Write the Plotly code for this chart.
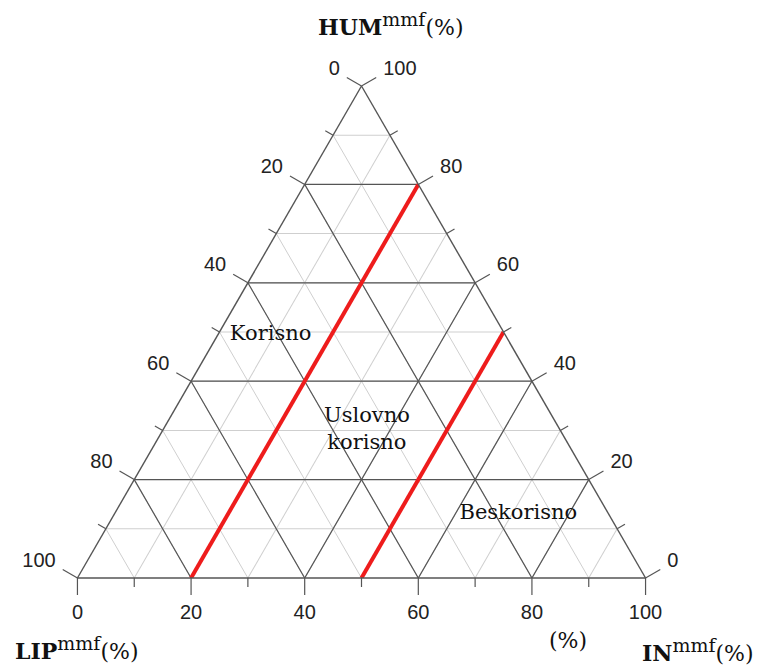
import math
import plotly.graph_objects as go

# ---- data ----
tick_vals = [0, 10, 20, 30, 40, 50, 60, 70, 80, 90, 100]
major_vals = [20, 40, 60, 80]
# boundaries (IN^mmf %) between usefulness classes
boundary_in = [20, 50]
region_names = ["Korisno", "Uslovno<br>korisno", "Beskorisno"]
region_hum = [49.4, 30.1, 13.0]
region_lip = [41.3, 34.0, 15.9]
region_in = [9.3, 35.9, 71.1]

# ---- layout constants (page has an 8px body margin) ----
OFF = 8
W, H = 761 - OFF, 667 - OFF
ML, MR, MT, MB = 76 - OFF, W - (647 - OFF), 86 - OFF, H - (578 - OFF)
PW, PH = W - ML - MR, H - MT - MB
S3 = math.sqrt(3) / 2

# triangle size plotly will use inside the ternary domain
tri_w = PH / S3 if PW * S3 > PH else PW
tri_h = tri_w * S3
scale = tri_w / 100.0           # px per unit
x_left_px = ML + (PW - tri_w) / 2
y_bot_px = MB + (PH - tri_h) / 2

T_MAJOR, T_MINOR = 17 / scale, 9 / scale   # tick lengths in units
major_col = "#555555"

fig = go.Figure()

def seg(a, b, c, color, width):
    fig.add_trace(go.Scatterternary(a=a, b=b, c=c, mode="lines",
                                    line=dict(color=color, width=width),
                                    hoverinfo="skip", showlegend=False))

# major grid lines (a, b, c families)
for v in major_vals:
    seg([v, v], [100 - v, 0], [0, 100 - v], major_col, 1.2)
    seg([100 - v, 0], [v, v], [0, 100 - v], major_col, 1.2)
    seg([100 - v, 0], [0, 100 - v], [v, v], major_col, 1.2)

# red boundary lines
for v in boundary_in:
    seg([100 - v, 0], [0, 100 - v], [v, v], "#ee1c1c", 4)

# region labels
fig.add_trace(go.Scatterternary(a=region_hum, b=region_lip, c=region_in, mode="text", text=region_names,
                                textfont=dict(family="DejaVu Serif", size=21, color="#111111"),
                                hoverinfo="skip", showlegend=False))

# ---- ticks outside the triangle on a full-page cartesian frame ----
def to_xy(a, b, c):
    return c + a / 2.0, a * S3

edges = [
    # edge point, outward normal, label position, label shift in px (dx, dy up)
    (lambda v: to_xy(100 - v, v, 0), (-S3, 0.5), "top left", (-7, -2)),      # LIP on left edge
    (lambda v: to_xy(0, 100 - v, v), (0.0, -1.0), "bottom center", (0, -9)),  # IN on bottom edge
    (lambda v: to_xy(v, 0, 100 - v), (S3, 0.5), "top right", (7, -2)),        # HUM on right edge
]
tx, ty = [], []
lx, ly, ltext, lpos = [], [], [], []
for pt, (nx, ny), pos, (sx, sy) in edges:
    for v in tick_vals:
        t = T_MAJOR if v % 20 == 0 else T_MINOR
        x0, y0 = pt(v)
        x1, y1 = x0 + nx * t, y0 + ny * t
        tx += [x0, x1, None]; ty += [y0, y1, None]
        if v % 20 == 0:
            lx.append(x1 + sx / scale); ly.append(y1 + sy / scale)
            ltext.append(str(v)); lpos.append(pos)

fig.add_trace(go.Scatter(x=tx, y=ty, mode="lines", line=dict(color=major_col, width=1.2),
                         hoverinfo="skip", showlegend=False))
fig.add_trace(go.Scatter(x=lx, y=ly, mode="text", text=ltext, textposition=lpos,
                         textfont=dict(family="Liberation Sans", size=20, color="#222222"),
                         hoverinfo="skip", showlegend=False))

axis_common = dict(
    tickmode="array", tickvals=tick_vals, ticks="", showticklabels=False,
    showgrid=True, gridcolor="#cfcfcf", gridwidth=1,
    showline=True, linecolor=major_col, linewidth=1.4,
    min=0, title=dict(text=""),
)

def ann(text, px, py, size=22):
    return dict(text=text, x=(px - OFF) / W, y=1 - (py - OFF) / H,
                xref="paper", yref="paper", xanchor="center", yanchor="middle", showarrow=False,
                font=dict(family="DejaVu Serif", size=size, color="#111"))

x0u = -x_left_px / scale
y0u = -y_bot_px / scale
sup = "<sup><span style='font-size:19px'>mmf</span></sup>"
fig.update_layout(
    width=W, height=H,
    paper_bgcolor="white", plot_bgcolor="rgba(0,0,0,0)",
    margin=dict(l=0, r=0, t=0, b=0),
    xaxis=dict(range=[x0u, x0u + W / scale], visible=False, fixedrange=True),
    yaxis=dict(range=[y0u, y0u + H / scale], visible=False, fixedrange=True),
    ternary=dict(sum=100, bgcolor="white",
                 domain=dict(x=[ML / W, (W - MR) / W], y=[MB / H, (H - MT) / H]),
                 aaxis=axis_common, baxis=axis_common, caxis=axis_common),
    annotations=[
        ann("<b>HUM</b>" + sup + "(%)", 390, 24),
        ann("<b>LIP</b>" + sup + "(%)", 76, 648),
        ann("<b>IN</b>" + sup + "(%)", 698, 650),
        ann("(%)", 568, 640),
    ],
)

fig.write_html("out.html")
